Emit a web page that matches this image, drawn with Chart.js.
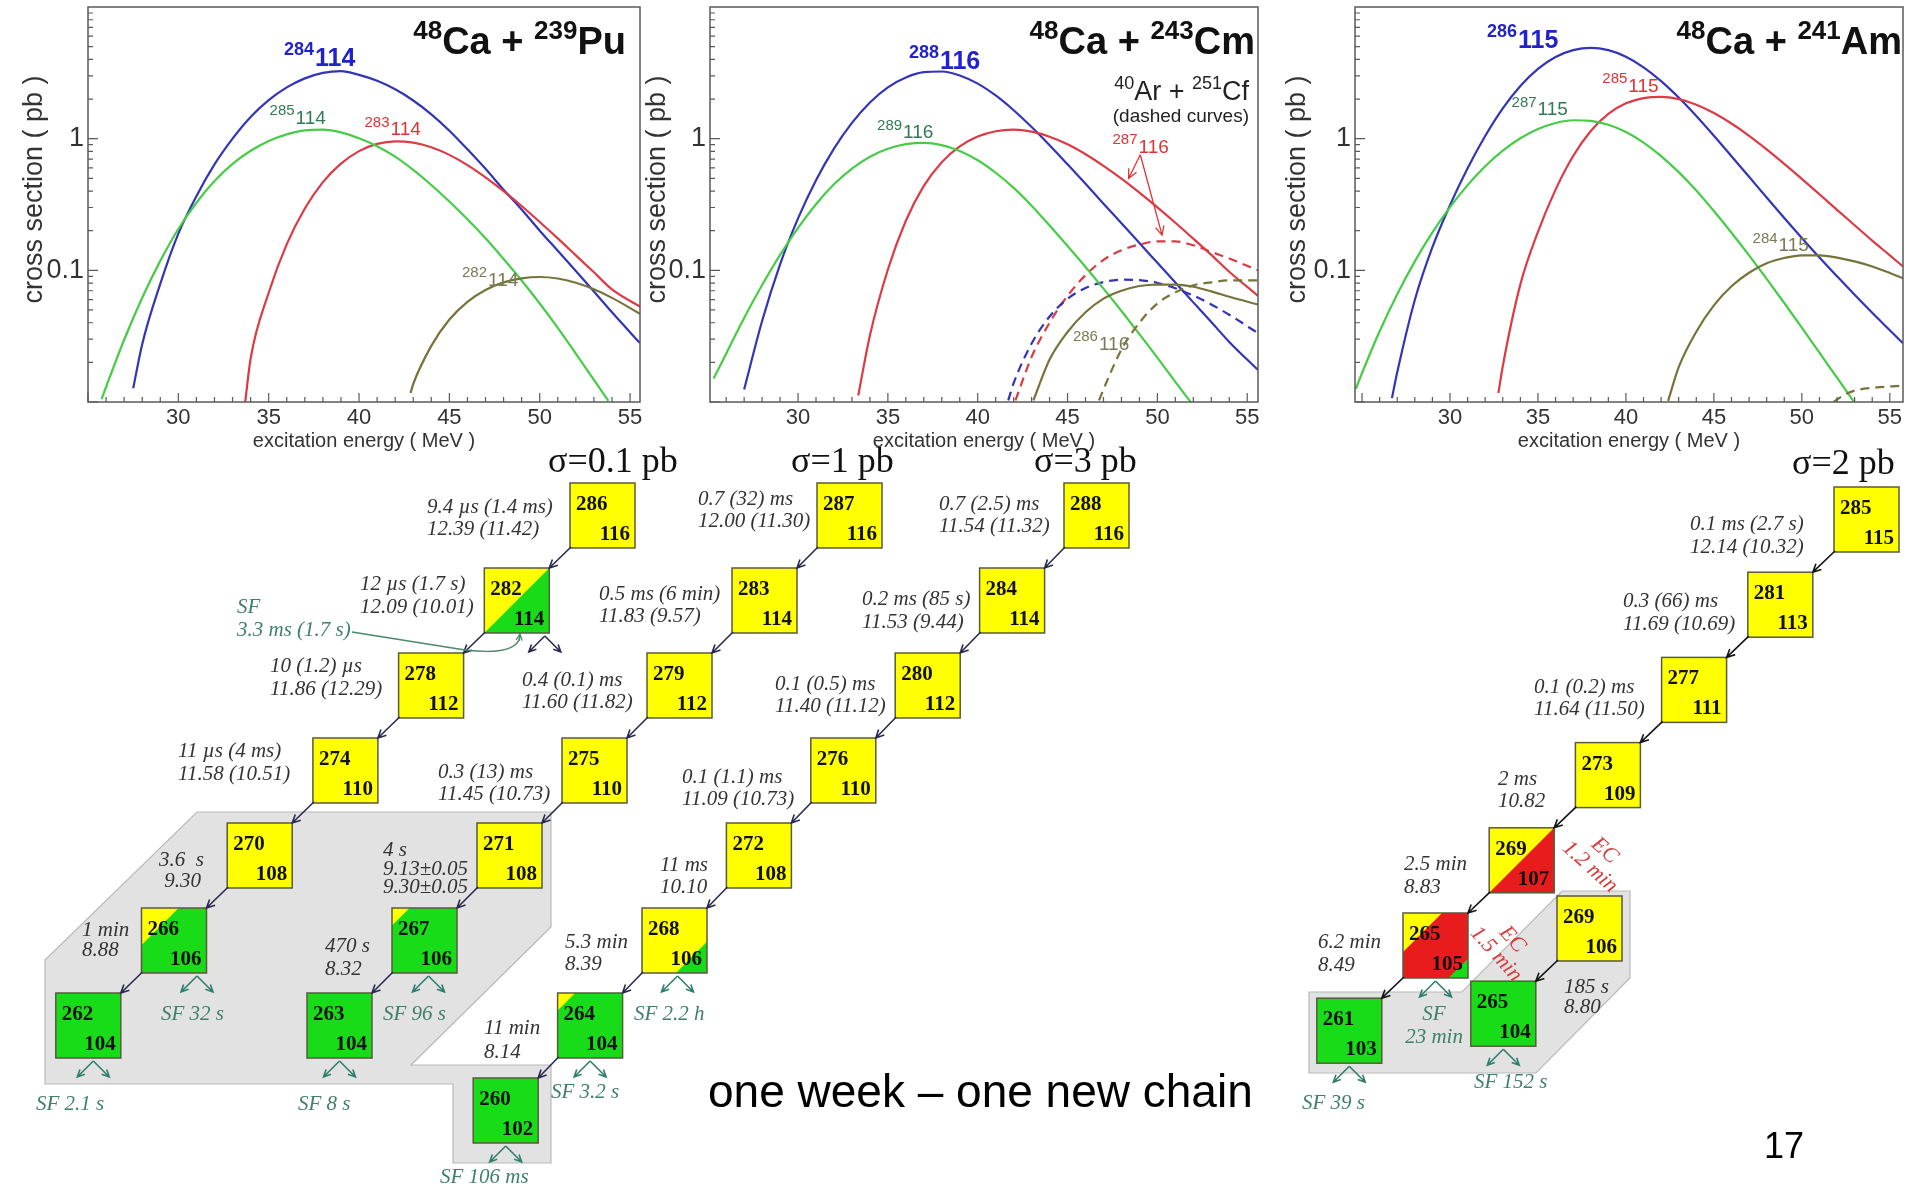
<!DOCTYPE html>
<html>
<head>
<meta charset="utf-8">
<title>Superheavy decay chains</title>
<script src="https://cdn.jsdelivr.net/npm/chart.js@4.4.1/dist/chart.umd.min.js"></script>
<style>
  html, body { margin: 0; padding: 0; background: #fff; }
  body { position: relative; width: 1907px; height: 1188px; overflow: hidden; }
  canvas { position: absolute; top: 0; }
</style>
</head>
<body>
<canvas id="chains" width="1907" height="1188" style="left:0"></canvas>
<canvas id="puChart" width="660" height="460" style="left:-3px"></canvas>
<canvas id="cmChart" width="660" height="460" style="left:620px"></canvas>
<canvas id="amChart" width="647" height="460" style="left:1260px"></canvas>
<script>
const SANS = '"Liberation Sans", Arial, sans-serif';
const SERIF = '"Liberation Serif", "Times New Roman", serif';

// axes of the three excitation functions
const X_TICKS = [30, 35, 40, 45, 50, 55];
const Y_TICKS = [0.1, 1];
const Y_TICK_TEXT = ['0.1', '1'];
const X_TITLE = 'excitation energy ( MeV )';
const Y_TITLE = '    cross section ( pb )';

// 48Ca + 239Pu
const puE284 = [27.5, 28, 29, 30, 31, 32, 33, 34, 35, 36, 37, 38, 39, 40, 41, 42, 43, 44, 45, 46, 47, 48, 49, 50, 51, 52, 53, 54, 55.55];
const puS284 = [0.0127, 0.0275, 0.079, 0.19, 0.366, 0.637, 1.0, 1.46, 1.96, 2.45, 2.87, 3.16, 3.26, 3.05, 2.75, 2.37, 1.95, 1.53, 1.15, 0.83, 0.59, 0.41, 0.29, 0.2, 0.141, 0.099, 0.069, 0.048, 0.028];
const puE285 = [25.75, 26, 27, 28, 29, 30, 31, 32, 33, 34, 35, 36, 37, 38, 39, 40, 41, 42, 43, 44, 45, 46, 47, 48, 49, 50, 51, 52, 53, 53.8];
const puS285 = [0.0105, 0.013, 0.0297, 0.062, 0.118, 0.206, 0.326, 0.476, 0.643, 0.809, 0.962, 1.079, 1.156, 1.17, 1.117, 1.007, 0.877, 0.73, 0.579, 0.445, 0.333, 0.244, 0.175, 0.122, 0.0837, 0.056, 0.0366, 0.0233, 0.0147, 0.0102];
const puE283 = [33.7, 34, 35, 36, 37, 38, 39, 40, 41, 42, 43, 44, 45, 46, 47, 48, 49, 50, 51, 52, 53, 54, 55.55];
const puS283 = [0.01, 0.0214, 0.0676, 0.158, 0.295, 0.468, 0.646, 0.804, 0.912, 0.955, 0.933, 0.861, 0.753, 0.63, 0.508, 0.399, 0.308, 0.233, 0.175, 0.13, 0.0966, 0.0716, 0.053];
const puE282 = [42.85, 43, 44, 45, 46, 47, 48, 49, 50, 51, 52, 53, 54, 55.55];
const puS282 = [0.0117, 0.0137, 0.0267, 0.0423, 0.0577, 0.071, 0.081, 0.087, 0.089, 0.0867, 0.0805, 0.0718, 0.0618, 0.0468];

// 48Ca + 243Cm (solid) and 40Ar + 251Cf (dashed)
const cmE288 = [27, 28, 29, 30, 31, 32, 33, 34, 35, 36, 37, 38, 39, 40, 41, 42, 43, 44, 45, 46, 47, 48, 49, 50, 51, 52, 53, 54, 55.6];
const cmS288 = [0.01245, 0.0412, 0.111, 0.248, 0.484, 0.841, 1.318, 1.884, 2.455, 2.917, 3.199, 3.236, 3.02, 2.618, 2.128, 1.644, 1.225, 0.891, 0.638, 0.454, 0.321, 0.228, 0.161, 0.114, 0.0807, 0.0571, 0.0405, 0.0286, 0.0175];
const cmE289 = [25.3, 26, 27, 28, 29, 30, 31, 32, 33, 34, 35, 36, 37, 38, 39, 40, 41, 42, 43, 44, 45, 46, 47, 48, 49, 50, 51, 51.9];
const cmS289 = [0.0151, 0.0233, 0.0435, 0.0773, 0.131, 0.21, 0.318, 0.45, 0.593, 0.73, 0.838, 0.908, 0.929, 0.893, 0.805, 0.686, 0.551, 0.423, 0.31, 0.219, 0.153, 0.106, 0.0726, 0.0491, 0.0328, 0.0217, 0.0142, 0.0098];
const cmE287 = [33.35, 34, 35, 36, 37, 38, 39, 40, 41, 42, 43, 44, 45, 46, 47, 48, 49, 50, 51, 52, 53, 54, 55.6];
const cmS287 = [0.0112, 0.032, 0.1014, 0.238, 0.438, 0.662, 0.873, 1.037, 1.138, 1.17, 1.13, 1.035, 0.906, 0.762, 0.622, 0.497, 0.389, 0.301, 0.23, 0.174, 0.131, 0.0975, 0.064];
const cmE286 = [43.1, 44, 45, 46, 47, 48, 49, 50, 51, 52, 53, 54, 55.6];
const cmS286 = [0.0103, 0.021, 0.034, 0.048, 0.061, 0.07, 0.076, 0.078, 0.078, 0.075, 0.0692, 0.063, 0.055];
const cfE287 = [42.1, 43, 44, 45, 46, 47, 48, 49, 50, 51, 52, 53, 54, 55.6];
const cfS287 = [0.0103, 0.022, 0.04, 0.064, 0.092, 0.12, 0.142, 0.157, 0.166, 0.166, 0.155, 0.138, 0.123, 0.1];
const cfE288 = [41.7, 42, 43, 44, 45, 46, 47, 48, 49, 50, 51, 52, 53, 54, 55.6];
const cfS288 = [0.0103, 0.0139, 0.0278, 0.0446, 0.0608, 0.0735, 0.0815, 0.0849, 0.0843, 0.0802, 0.0731, 0.0644, 0.0551, 0.046, 0.0333];
const cfE286 = [46.75, 47, 48, 49, 50, 51, 52, 53, 54, 55.6];
const cfS286 = [0.0103, 0.0125, 0.025, 0.04, 0.056, 0.068, 0.077, 0.081, 0.084, 0.084];

// 48Ca + 241Am
const amE286 = [26.7, 27, 28, 29, 30, 31, 32, 33, 34, 35, 36, 37, 38, 39, 40, 41, 42, 43, 44, 45, 46, 47, 48, 49, 50, 51, 52, 53, 54, 55, 55.75];
const amS286 = [0.0107, 0.0168, 0.0596, 0.15, 0.313, 0.596, 1.047, 1.698, 2.512, 3.388, 4.169, 4.699, 4.898, 4.699, 4.188, 3.483, 2.735, 2.051, 1.486, 1.052, 0.736, 0.513, 0.357, 0.25, 0.176, 0.125, 0.09, 0.0652, 0.0476, 0.0351, 0.0279];
const amE287 = [24.65, 25, 26, 27, 28, 29, 30, 31, 32, 33, 34, 35, 36, 37, 38, 39, 40, 41, 42, 43, 44, 45, 46, 47, 48, 49, 50, 51, 52, 53];
const amS287 = [0.0126, 0.0166, 0.0345, 0.0659, 0.117, 0.194, 0.302, 0.444, 0.617, 0.811, 1.007, 1.183, 1.315, 1.38, 1.365, 1.274, 1.122, 0.933, 0.738, 0.557, 0.404, 0.282, 0.193, 0.13, 0.0861, 0.0565, 0.0367, 0.0237, 0.0153, 0.0099];
const amE285 = [32.75, 33, 34, 35, 36, 37, 38, 39, 40, 41, 42, 43, 44, 45, 46, 47, 48, 49, 50, 51, 52, 53, 54, 55, 55.75];
const amS285 = [0.0117, 0.0187, 0.0782, 0.196, 0.41, 0.738, 1.143, 1.542, 1.854, 2.032, 2.08, 1.995, 1.811, 1.567, 1.303, 1.052, 0.83, 0.644, 0.495, 0.378, 0.288, 0.22, 0.168, 0.13, 0.107];
const amE284 = [42.4, 43, 44, 45, 46, 47, 48, 49, 50, 51, 52, 53, 54, 55, 55.75];
const amS284 = [0.0102, 0.0184, 0.0342, 0.0542, 0.0757, 0.0959, 0.113, 0.124, 0.13, 0.13, 0.125, 0.117, 0.107, 0.0955, 0.0871];
const amEdash = [51.8, 52.5, 53, 54, 55.75];
const amSdash = [0.01, 0.0115, 0.0122, 0.0128, 0.0133];

const LINE = { blue: '#3434b8', green: '#46cc46', red: '#dc3a44', olive: '#76743a' };
const TAG = { blue: '#2222cc', green: '#307a52', red: '#e03434', olive: '#7a7a55' };

// isotope tags: mass, Z, energy, cross section, colour
const puTags = [['284', '114', 35.85, 3.55, 'blue'], ['285', '114', 35.05, 1.3, 'green'], ['283', '114', 40.3, 1.06, 'red'], ['282', '114', 45.7, 0.076, 'olive']];
const cmTags = [['288', '116', 36.17, 3.36, 'blue'], ['289', '116', 34.4, 1.01, 'green'], ['287', '116', 47.5, 0.78, 'red'], ['286', '116', 45.3, 0.025, 'olive']];
const amTags = [['286', '115', 32.1, 4.9, 'blue'], ['287', '115', 33.5, 1.51, 'green'], ['285', '115', 38.66, 2.28, 'red'], ['284', '115', 47.2, 0.14, 'olive']];

// ---------- decay chains ----------
const puMass = [286, 282, 278, 274, 270, 266, 262];
const puZ = [116, 114, 112, 110, 108, 106, 104];
const puFill = ['Y', 'YG', 'Y', 'Y', 'Y', 'GY57', 'G'];
const puSF = [false, true, false, false, false, true, true];

const cm1Mass = [287, 283, 279, 275, 271, 267, 263];
const cm1Z = [116, 114, 112, 110, 108, 106, 104];
const cm1Fill = ['Y', 'Y', 'Y', 'Y', 'Y', 'GY27', 'G'];
const cm1SF = [false, false, false, false, false, true, true];

const cm2Mass = [288, 284, 280, 276, 272, 268, 264, 260];
const cm2Z = [116, 114, 112, 110, 108, 106, 104, 102];
const cm2Fill = ['Y', 'Y', 'Y', 'Y', 'Y', 'YG48', 'GY27', 'G'];
const cm2SF = [false, false, false, false, false, true, true, true];

const amMass = [285, 281, 277, 273, 269, 265, 261];
const amZ = [115, 113, 111, 109, 107, 105, 103];
const amFill = ['Y', 'Y', 'Y', 'Y', 'YR', 'YRG', 'G'];
const amSF = [false, false, false, false, false, true, true];

const ecMass = [269, 265];
const ecZ = [106, 104];
const ecFill = ['Y', 'G'];
const ecSF = [false, true];

const NUC = { Y: '#ffff00', G: '#17dc17', R: '#e81c1c' };
const FILLS = {
  Y: { base: 'Y' }, G: { base: 'G' },
  YG: { base: 'G', tl: ['Y', 1] },
  GY57: { base: 'G', tl: ['Y', 0.57] },
  GY27: { base: 'G', tl: ['Y', 0.27] },
  YG48: { base: 'Y', br: ['G', 0.48] },
  YR: { base: 'R', tl: ['Y', 1] },
  YRG: { base: 'R', tl: ['Y', 0.6], br: ['G', 0.3] }
};

const BOX = 65;
const CHAINS = [
  { mass: puMass, z: puZ, fill: puFill, sf: puSF, x0: 570, y0: 483, dx: -85.7, dy: 85, arrow: '#2a2a50' },
  { mass: cm1Mass, z: cm1Z, fill: cm1Fill, sf: cm1SF, x0: 817, y0: 483, dx: -85, dy: 85, arrow: '#2a2a50' },
  { mass: cm2Mass, z: cm2Z, fill: cm2Fill, sf: cm2SF, x0: 1064, y0: 483, dx: -84.4, dy: 85, arrow: '#2a2a50' },
  { mass: amMass, z: amZ, fill: amFill, sf: amSF, x0: 1834, y0: 487, dx: -86.2, dy: 85.2, arrow: '#151515' },
  { mass: ecMass, z: ecZ, fill: ecFill, sf: ecSF, x0: 1557, y0: 896, dx: -86.2, dy: 85.2, arrow: '#151515' }
];
const SF_SHIFT = { '282': 28, '266': 23, '262': 5, '267': 4, '268': 3 };

const GREY_AREAS = [
  [[197, 812], [551, 812], [551, 927], [411, 1065], [551, 1065], [551, 1163], [453, 1163], [453, 1084], [45, 1084], [45, 960]],
  [[1309, 992], [1462, 992], [1562, 891], [1630, 891], [1630, 978], [1536, 1073], [1309, 1073]]
];

const SIGMA_NOTES = [['σ=0.1 pb', 548, 472], ['σ=1 pb', 791, 472], ['σ=3 pb', 1034, 472], ['σ=2 pb', 1792, 474]];

// half-lives and alpha energies: lines, x, baseline, line gap
const DECAY_NOTES = [
  [['9.4 µs (1.4 ms)', '12.39 (11.42)'], 427, 513, 22],
  [['12 µs (1.7 s)', '12.09 (10.01)'], 360, 590, 23],
  [['10 (1.2) µs', '11.86 (12.29)'], 270, 672, 23],
  [['11 µs (4 ms)', '11.58 (10.51)'], 178, 757, 23],
  [['3.6  s', ' 9.30'], 159, 866, 21],
  [['1 min', '8.88'], 82, 936, 20],
  [['0.7 (32) ms', '12.00 (11.30)'], 698, 505, 22],
  [['0.5 ms (6 min)', '11.83 (9.57)'], 599, 600, 22],
  [['0.4 (0.1) ms', '11.60 (11.82)'], 522, 686, 22],
  [['0.3 (13) ms', '11.45 (10.73)'], 438, 778, 22],
  [['4 s', '9.13±0.05', '9.30±0.05'], 383, 856, 18.5],
  [['470 s', '8.32'], 325, 952, 23],
  [['0.7 (2.5) ms', '11.54 (11.32)'], 939, 510, 22],
  [['0.2 ms (85 s)', '11.53 (9.44)'], 862, 605, 23],
  [['0.1 (0.5) ms', '11.40 (11.12)'], 775, 690, 22],
  [['0.1 (1.1) ms', '11.09 (10.73)'], 682, 783, 22],
  [['11 ms', '10.10'], 660, 871, 22],
  [['5.3 min', '8.39'], 565, 948, 22],
  [['11 min', '8.14'], 484, 1034, 24],
  [['0.1 ms (2.7 s)', '12.14 (10.32)'], 1690, 530, 23],
  [['0.3 (66) ms', '11.69 (10.69)'], 1623, 607, 23],
  [['0.1 (0.2) ms', '11.64 (11.50)'], 1534, 693, 22],
  [['2 ms', '10.82'], 1498, 785, 22],
  [['2.5 min', '8.83'], 1404, 870, 23],
  [['6.2 min', '8.49'], 1318, 948, 23],
  [['185 s', '8.80'], 1564, 993, 20]
];
const SF_NOTES = [
  [['SF 32 s'], 161, 1020], [['SF 96 s'], 383, 1020], [['SF 2.1 s'], 36, 1110],
  [['SF 8 s'], 298, 1110], [['SF 106 ms'], 440, 1183], [['SF 2.2 h'], 634, 1020],
  [['SF 3.2 s'], 551, 1098], [['SF', '3.3 ms (1.7 s)'], 237, 613], [['SF 152 s'], 1474, 1088],
  [['SF 39 s'], 1302, 1109], [['SF', '23 min'], 1434, 1020, 'center']
];
const EC_NOTES = [[['EC', '1.2 min'], 1598, 858, 42], [['EC', '1.5 min'], 1505, 946, 48]];

function arrow(ctx, x1, y1, x2, y2, head) {
  const a = Math.atan2(y2 - y1, x2 - x1);
  ctx.beginPath();
  ctx.moveTo(x1, y1); ctx.lineTo(x2, y2);
  ctx.moveTo(x2 - head * Math.cos(a - 0.45), y2 - head * Math.sin(a - 0.45));
  ctx.lineTo(x2, y2);
  ctx.lineTo(x2 - head * Math.cos(a + 0.45), y2 - head * Math.sin(a + 0.45));
  ctx.stroke();
}

// text with superscript pieces, right aligned at rx
function drawParts(ctx, parts, rx, by, main, sup, raise) {
  let w = 0;
  parts.forEach(([t, k]) => { ctx.font = k === 'sup' ? sup : main; w += ctx.measureText(t).width; });
  let xx = rx - w;
  ctx.textAlign = 'left';
  parts.forEach(([t, k]) => {
    ctx.font = k === 'sup' ? sup : main;
    ctx.fillText(t, xx, k === 'sup' ? by - raise : by);
    xx += ctx.measureText(t).width;
  });
}

const frameTicks = {
  id: 'frameTicks',
  afterDraw(chart) {
    const { ctx, chartArea: a, scales: { x, y } } = chart;
    ctx.save();
    ctx.strokeStyle = '#5a5a5a';
    ctx.lineWidth = 1.5;
    ctx.strokeRect(a.left, a.top, a.right - a.left, a.bottom - a.top);
    ctx.lineWidth = 1.2;
    ctx.beginPath();
    for (let e = Math.ceil(x.min); e <= x.max; e++) {
      const p = x.getPixelForValue(e);
      ctx.moveTo(p, a.bottom);
      ctx.lineTo(p, a.bottom - (e % 5 === 0 ? 9 : 5));
    }
    [0.01, 0.1, 1].forEach(d => {
      for (let m = 1; m <= 9; m++) {
        const p = y.getPixelForValue(d * m);
        ctx.moveTo(a.left, p);
        ctx.lineTo(a.left + (m === 1 ? 10 : 5), p);
      }
    });
    ctx.stroke();
    ctx.restore();
  }
};

const curveText = {
  id: 'curveText',
  afterDraw(chart, args, o) {
    const { ctx, chartArea: a, scales: { x, y } } = chart;
    ctx.save();
    ctx.fillStyle = '#111';
    ctx.textBaseline = 'alphabetic';
    drawParts(ctx, o.title, a.right - o.titleRight, a.top + 47,
      'bold 38px ' + SANS, 'bold 26px ' + SANS, 15);
    o.tags.forEach(([m, z, e, s, c]) => {
      const bold = c === 'blue';
      const px = x.getPixelForValue(e), py = y.getPixelForValue(s);
      const main = bold ? 25 : 19, sup = bold ? 18 : 15;
      ctx.fillStyle = TAG[c];
      ctx.textAlign = 'left';
      ctx.font = (bold ? 'bold ' : '') + sup + 'px ' + SANS;
      ctx.fillText(m, px, py - main * 0.45);
      const w = ctx.measureText(m).width;
      ctx.font = (bold ? 'bold ' : '') + main + 'px ' + SANS;
      ctx.fillText(z, px + w + 1, py);
    });
    if (o.reaction2) {
      ctx.fillStyle = '#222';
      drawParts(ctx, o.reaction2, a.right - 9, a.top + 93, '27px ' + SANS, '18px ' + SANS, 11);
      ctx.font = '19px ' + SANS;
      ctx.textAlign = 'right';
      ctx.fillText('(dashed curves)', a.right - 9, a.top + 115);
    }
    if (o.pointers) {
      ctx.strokeStyle = '#e03434';
      ctx.lineWidth = 1.3;
      o.pointers.forEach(([e1, s1, e2, s2]) => arrow(ctx, x.getPixelForValue(e1), y.getPixelForValue(s1),
        x.getPixelForValue(e2), y.getPixelForValue(s2), 10));
    }
    ctx.restore();
  }
};

function curveChart(id, o) {
  return new Chart(document.getElementById(id), {
    type: 'line',
    data: {
      datasets: o.curves.map(([e, s, c, dashed]) => ({
        data: e.map((v, i) => ({ x: v, y: s[i] })),
        borderColor: LINE[c],
        borderWidth: 2.2,
        borderDash: dashed ? [9, 6] : [],
        pointRadius: 0,
        cubicInterpolationMode: 'monotone',
        fill: false
      }))
    },
    options: {
      responsive: false,
      animation: false,
      events: [],
      layout: { padding: { left: 0, top: 7, right: o.rightPad, bottom: 0 } },
      plugins: { legend: { display: false }, tooltip: { enabled: false }, curveText: o.text },
      scales: {
        x: {
          type: 'linear', min: o.xMin, max: o.xMax,
          afterBuildTicks: s => { s.ticks = X_TICKS.map(v => ({ value: v })); },
          afterFit: s => { s.height = 58; s.paddingLeft = 0; s.paddingRight = 0; },
          grid: { display: false, drawTicks: false },
          border: { display: false },
          ticks: { autoSkip: false, maxRotation: 0, padding: 3, color: '#333', font: { family: SANS, size: 22 } },
          title: { display: true, text: X_TITLE, color: '#333', font: { family: SANS, size: 20 }, padding: { top: 0, bottom: 7 } }
        },
        y: {
          type: 'logarithmic', min: 0.01, max: 10,
          afterBuildTicks: s => { s.ticks = Y_TICKS.map(v => ({ value: v })); },
          afterFit: s => { s.width = o.axisW; s.paddingTop = 0; s.paddingBottom = 0; },
          grid: { display: false, drawTicks: false },
          border: { display: false },
          ticks: { padding: 4, color: '#333', font: { family: SANS, size: 27 },
            callback: v => Y_TICK_TEXT[Y_TICKS.indexOf(v)] },
          title: { display: true, text: Y_TITLE, color: '#333', font: { family: SANS, size: 27 }, padding: { top: 21.8, bottom: 0 } }
        }
      }
    },
    plugins: [frameTicks, curveText]
  });
}

curveChart('puChart', {
  xMin: 25, xMax: 55.55, axisW: 91, rightPad: 17,
  curves: [[puE282, puS282, 'olive'], [puE285, puS285, 'green'], [puE283, puS283, 'red'], [puE284, puS284, 'blue']],
  text: { title: [['48', 'sup'], ['Ca + ', 'm'], ['239', 'sup'], ['Pu', 'm']], titleRight: 14, tags: puTags }
});
curveChart('cmChart', {
  xMin: 25.1, xMax: 55.6, axisW: 90, rightPad: 22,
  curves: [[cmE286, cmS286, 'olive'], [cfE286, cfS286, 'olive', true], [cmE289, cmS289, 'green'],
    [cfE288, cfS288, 'blue', true], [cfE287, cfS287, 'red', true], [cmE287, cmS287, 'red'], [cmE288, cmS288, 'blue']],
  text: {
    title: [['48', 'sup'], ['Ca + ', 'm'], ['243', 'sup'], ['Cm', 'm']], titleRight: 3, tags: cmTags,
    reaction2: [['40', 'sup'], ['Ar + ', 'm'], ['251', 'sup'], ['Cf', 'm']],
    pointers: [[49.05, 0.755, 48.4, 0.5], [49.05, 0.755, 50.26, 0.185]]
  }
});
curveChart('amChart', {
  xMin: 24.6, xMax: 55.75, axisW: 95, rightPad: 4,
  curves: [[amE284, amS284, 'olive'], [amEdash, amSdash, 'olive', true], [amE287, amS287, 'green'], [amE285, amS285, 'red'], [amE286, amS286, 'blue']],
  text: { title: [['48', 'sup'], ['Ca + ', 'm'], ['241', 'sup'], ['Am', 'm']], titleRight: 1, tags: amTags }
});

// ---------- decay chain diagram ----------
const chainPlugin = {
  id: 'chainPlugin',
  afterDraw(chart) {
    const { ctx, scales: { x, y } } = chart;
    const X = v => x.getPixelForValue(v), Y = v => y.getPixelForValue(v);
    ctx.save();

    GREY_AREAS.forEach(poly => {
      ctx.beginPath();
      poly.forEach(([a, b], i) => (i ? ctx.lineTo(X(a), Y(b)) : ctx.moveTo(X(a), Y(b))));
      ctx.closePath();
      ctx.fillStyle = '#e2e2e2';
      ctx.fill();
      ctx.strokeStyle = '#b9b9b9';
      ctx.lineWidth = 1.2;
      ctx.stroke();
    });

    CHAINS.forEach(ch => {
      const cells = ch.mass.map((m, k) => {
        const L = X(ch.x0 + k * ch.dx), T = Y(ch.y0 + k * ch.dy);
        return { L, T, R: X(ch.x0 + k * ch.dx + BOX), B: Y(ch.y0 + k * ch.dy + BOX) };
      });
      cells.forEach((c, k) => {
        const S = c.R - c.L, f = FILLS[ch.fill[k]];
        ctx.fillStyle = NUC[f.base];
        ctx.fillRect(c.L, c.T, S, S);
        if (f.tl) {
          ctx.fillStyle = NUC[f.tl[0]];
          ctx.beginPath();
          ctx.moveTo(c.L, c.T); ctx.lineTo(c.L + S * f.tl[1], c.T); ctx.lineTo(c.L, c.T + S * f.tl[1]);
          ctx.closePath(); ctx.fill();
        }
        if (f.br) {
          ctx.fillStyle = NUC[f.br[0]];
          ctx.beginPath();
          ctx.moveTo(c.R, c.B); ctx.lineTo(c.R - S * f.br[1], c.B); ctx.lineTo(c.R, c.B - S * f.br[1]);
          ctx.closePath(); ctx.fill();
        }
        ctx.strokeStyle = '#5a5a40';
        ctx.lineWidth = 1.5;
        ctx.strokeRect(c.L, c.T, S, S);
        ctx.fillStyle = '#111';
        ctx.font = 'bold 21px ' + SERIF;
        ctx.textAlign = 'left';
        ctx.fillText(String(ch.mass[k]), c.L + 6, c.T + 27);
        ctx.textAlign = 'right';
        ctx.fillText(String(ch.z[k]), c.R - 5, c.B - 8);

        if (ch.sf[k]) {
          const key = String(ch.mass[k]);
          const cx = (c.L + c.R) / 2 + (SF_SHIFT[key] || 0);
          ctx.strokeStyle = key === '282' ? '#2a2a50' : '#2f7f6c';
          ctx.lineWidth = 1.6;
          arrow(ctx, cx, c.B + 3, cx - 16, c.B + 19, 8);
          arrow(ctx, cx, c.B + 3, cx + 16, c.B + 19, 8);
        }
      });
      ctx.strokeStyle = ch.arrow;
      ctx.lineWidth = 1.6;
      for (let k = 0; k + 1 < cells.length; k++) {
        arrow(ctx, cells[k].L + 1, cells[k].B - 1, cells[k + 1].R, cells[k + 1].T, 9);
      }
    });

    // SF pointer of 282/114
    ctx.strokeStyle = '#4a8a6a';
    ctx.lineWidth = 1.3;
    ctx.beginPath();
    ctx.moveTo(X(352), Y(632));
    ctx.lineTo(X(465), Y(650));
    ctx.quadraticCurveTo(X(516), Y(656), X(520), Y(637));
    ctx.stroke();
    arrow(ctx, X(519), Y(641), X(520), Y(634), 7);

    ctx.textBaseline = 'alphabetic';
    ctx.fillStyle = '#111';
    ctx.font = '36px ' + SERIF;
    ctx.textAlign = 'left';
    SIGMA_NOTES.forEach(([t, a, b]) => ctx.fillText(t, X(a), Y(b)));

    ctx.font = 'italic 21px ' + SERIF;
    ctx.fillStyle = '#333';
    DECAY_NOTES.forEach(([lines, a, b, gap]) => lines.forEach((t, i) => ctx.fillText(t, X(a), Y(b + i * gap))));

    ctx.fillStyle = '#3f8068';
    SF_NOTES.forEach(([lines, a, b, al]) => {
      ctx.textAlign = al || 'left';
      lines.forEach((t, i) => ctx.fillText(t, X(a), Y(b + i * 23)));
    });

    ctx.fillStyle = '#d83c3c';
    ctx.font = 'italic 22px ' + SERIF;
    ctx.textAlign = 'center';
    EC_NOTES.forEach(([lines, a, b, ang]) => {
      ctx.save();
      ctx.translate(X(a), Y(b));
      ctx.rotate(ang * Math.PI / 180);
      lines.forEach((t, i) => ctx.fillText(t, 0, (i - (lines.length - 1) / 2) * 22 + 7));
      ctx.restore();
    });

    ctx.fillStyle = '#000';
    ctx.textAlign = 'left';
    ctx.font = '46px ' + SANS;
    ctx.fillText('one week – one new chain', X(708), Y(1107));
    ctx.font = '36px ' + SANS;
    ctx.fillText('17', X(1764), Y(1158));
    ctx.restore();
  }
};

new Chart(document.getElementById('chains'), {
  type: 'scatter',
  data: { datasets: [] },
  options: {
    responsive: false,
    animation: false,
    events: [],
    layout: { padding: 0 },
    plugins: { legend: { display: false }, tooltip: { enabled: false } },
    scales: {
      x: { type: 'linear', min: 0, max: 1907, display: false },
      y: { type: 'linear', min: 0, max: 1188, reverse: true, display: false }
    }
  },
  plugins: [chainPlugin]
});
</script>
</body>
</html>
